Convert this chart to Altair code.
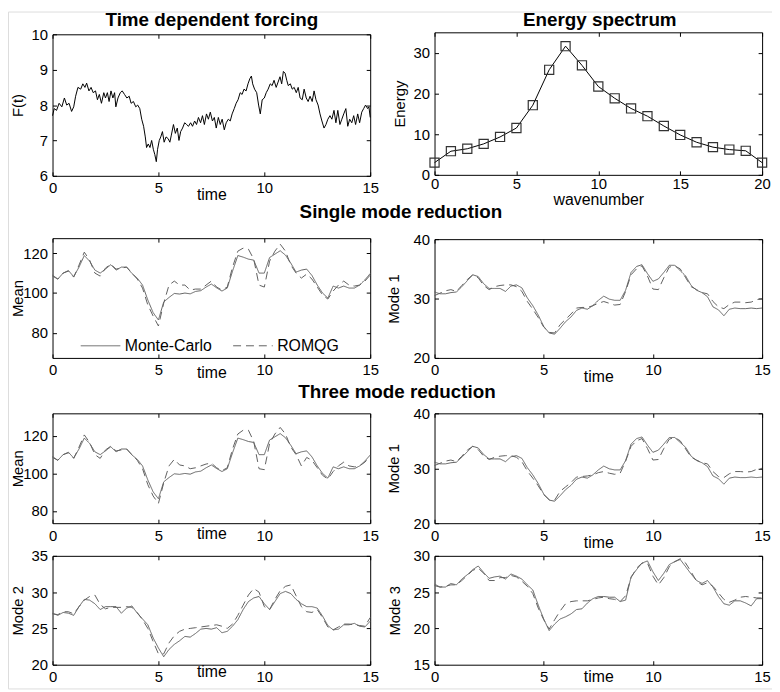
import altair as alt
import pandas as pd

W, H = 772, 684
FONT = "Liberation Sans"
GRAY = "#606060"

# ---------------- data ----------------
T_FORCE = [0.00, 0.08, 0.19, 0.31, 0.44, 0.56, 0.67, 0.78, 0.90, 1.00, 1.09, 1.20, 1.33, 1.43, 1.53, 1.61,
           1.72, 1.82, 1.92, 2.03, 2.12, 2.21, 2.31, 2.42, 2.50, 2.59, 2.67, 2.76, 2.85, 2.93, 2.99, 3.09,
           3.20, 3.29, 3.40, 3.51, 3.62, 3.71, 3.82, 3.93, 4.02, 4.12, 4.21, 4.30, 4.38, 4.44, 4.52, 4.60,
           4.68, 4.76, 4.83, 4.90, 4.96, 5.04, 5.11, 5.19, 5.27, 5.36, 5.46, 5.54, 5.61, 5.71, 5.80, 5.89,
           5.97, 6.05, 6.14, 6.24, 6.33, 6.42, 6.52, 6.61, 6.71, 6.80, 6.89, 6.99, 7.08, 7.17, 7.27, 7.36,
           7.45, 7.55, 7.64, 7.73, 7.83, 7.92, 8.01, 8.11, 8.20, 8.30, 8.39, 8.48, 8.58, 8.67, 8.76, 8.86,
           8.95, 9.04, 9.14, 9.23, 9.32, 9.39, 9.45, 9.54, 9.64, 9.73, 9.81, 9.90, 10.00, 10.09, 10.18, 10.28,
           10.37, 10.46, 10.56, 10.65, 10.74, 10.82, 10.90, 10.98, 11.06, 11.13, 11.23, 11.32, 11.41, 11.51,
           11.60, 11.69, 11.79, 11.88, 11.98, 12.07, 12.16, 12.26, 12.35, 12.44, 12.54, 12.63, 12.72, 12.82,
           12.91, 13.00, 13.10, 13.19, 13.29, 13.38, 13.47, 13.57, 13.66, 13.75, 13.85, 13.94, 14.03, 14.13,
           14.22, 14.31, 14.41, 14.50, 14.60, 14.69, 14.78, 14.88, 14.94, 15.00]
F_FORCE = [7.70, 7.90, 7.85, 8.05, 7.95, 8.20, 8.00, 8.05, 7.82, 7.95, 8.25, 8.50, 8.45, 8.60, 8.50, 8.62,
           8.40, 8.50, 8.35, 8.40, 8.15, 8.30, 8.05, 8.35, 8.20, 8.35, 8.10, 8.40, 8.20, 8.35, 7.95, 8.20,
           8.35, 8.40, 8.30, 8.20, 8.25, 8.05, 8.10, 7.95, 8.00, 7.90, 7.60, 7.40, 7.10, 6.80, 6.90, 6.80,
           7.00, 6.75, 6.60, 6.40, 6.75, 7.00, 7.10, 7.25, 6.95, 7.10, 7.05, 6.95, 7.15, 7.45, 7.20, 7.35,
           7.00, 7.25, 7.35, 7.50, 7.45, 7.40, 7.50, 7.40, 7.55, 7.45, 7.65, 7.50, 7.70, 7.45, 7.75, 7.60,
           7.80, 7.55, 7.65, 7.35, 7.65, 7.45, 7.60, 7.30, 7.50, 7.60, 7.55, 7.75, 7.90, 8.05, 8.15, 8.35,
           8.30, 8.45, 8.40, 8.60, 8.75, 8.82, 8.60, 8.45, 8.35, 8.00, 7.75, 8.15, 8.20, 8.35, 8.45, 8.60,
           8.55, 8.70, 8.50, 8.65, 8.80, 8.60, 8.95, 8.90, 8.70, 8.55, 8.60, 8.45, 8.50, 8.35,
           8.50, 8.20, 8.15, 8.45, 8.20, 8.10, 8.25, 8.10, 8.40, 8.15, 8.00, 7.75, 7.55, 7.35,
           7.45, 7.60, 7.70, 7.60, 7.85, 7.50, 7.85, 7.45, 7.60, 7.75, 7.90, 7.40, 7.60, 7.50,
           7.70, 7.45, 7.75, 7.50, 7.80, 7.90, 8.00, 7.90, 7.95, 7.65]

WAVENUMBER = list(range(21))
ENERGY = [3.0, 5.8, 6.4, 7.6, 9.3, 11.5, 17.1, 25.8, 31.6, 26.9, 21.7, 18.8, 16.3, 14.4, 12.0, 9.8,
          8.0, 6.8, 6.2, 5.9, 3.0]

T = [0, 0.25, 0.5, 0.75, 1, 1.25, 1.5, 1.75, 2, 2.25, 2.5, 2.75, 3, 3.25, 3.5, 3.75, 4, 4.25, 4.5, 4.75,
     5, 5.25, 5.5, 5.75, 6, 6.25, 6.5, 6.75, 7, 7.25, 7.5, 7.75, 8, 8.25, 8.5, 8.75, 9, 9.25, 9.5, 9.75,
     10, 10.25, 10.5, 10.75, 11, 11.25, 11.5, 11.75, 12, 12.25, 12.5, 12.75, 13, 13.25, 13.5, 13.75,
     14, 14.25, 14.5, 14.75, 15]

MC_MEAN = [109, 107, 110, 111.3, 108.2, 113, 118.8, 116, 111.5, 110, 112, 114.2, 111.5, 113, 113, 109.8,
           107.5, 104, 96.5, 90.2, 86.5, 95.5, 97.8, 99.8, 99.5, 100, 99.6, 100.8, 101.2, 103, 104.5, 102.6,
           101, 102.5, 111, 118.8, 118, 117, 116.5, 110, 110, 117.8, 119.5, 121.2, 119, 115, 110.5, 111.5,
           112, 108.8, 104, 100, 97.5, 103.5, 102.5, 103.5, 102.5, 102.5, 104, 106.6, 109.8]
ROM_MEAN_1 = [108.5, 107, 110, 111, 108, 114, 120.5, 116.5, 110, 108.5, 112.5, 114.5, 112, 112.5, 113, 110,
              107, 102.5, 94, 88.5, 83.5, 95, 104, 106, 104, 104, 101.5, 102, 102, 104, 106, 103,
              101.5, 103, 113, 121, 122.5, 122, 117, 104, 103, 116, 121, 124.5, 121, 114, 110, 107.5,
              109.5, 107, 103, 99, 97, 101, 104, 106, 104, 103.5, 104, 106, 109]
ROM_MEAN_3 = [108.5, 107, 110, 111, 108, 114, 120.5, 116.5, 110, 108, 112.5, 114.5, 112, 112.5, 113, 110,
              107, 102.5, 94, 88, 84, 95, 104, 107.5, 104.5, 104, 102.5, 103, 104, 105, 105.5, 103,
              101.5, 103, 113, 121, 123, 123, 117, 102.5, 102, 116, 121, 124.5, 121, 114, 110, 104,
              108.5, 107, 103, 99, 97, 101, 104, 106, 104, 103.5, 104, 106, 109]

MC_MODE1 = [31.1, 30.8, 30.8, 31.0, 31.1, 32.0, 33.0, 34.0, 33.7, 32.5, 31.7, 31.7, 31.7, 31.2, 32.1, 32.3,
            31.8, 30.1, 28.8, 27.2, 25.3, 24.2, 24.0, 25.0, 26.1, 26.9, 28.0, 28.4, 28.2, 28.8, 29.7, 30.4,
            29.9, 29.7, 29.7, 31.4, 34.4, 35.4, 35.7, 34.2, 32.9, 33.3, 34.4, 35.6, 35.6, 34.7, 33.8, 32.2,
            31.4, 31.0, 30.3, 28.6, 28.1, 27.1, 28.2, 28.4, 28.3, 28.3, 28.4, 28.3, 28.4]
ROM_MODE1_1 = [30.5, 30.9, 31.3, 31.5, 31.2, 32.2, 33.2, 34.0, 33.5, 32.2, 31.5, 32.0, 32.2, 32.3, 32.3, 32.0,
               31.2, 29.5, 28.2, 26.8, 25.2, 24.3, 24.2, 25.6, 26.5, 27.4, 28.4, 28.5, 28.5, 28.8, 29.2, 29.5,
               29.2, 28.9, 29.0, 31.2, 34.0, 35.0, 35.5, 33.8, 31.6, 31.5, 33.5, 35.3, 35.5, 35.0, 33.5, 32.0,
               31.5, 31.0, 30.8, 29.5, 28.6, 28.3, 29.0, 29.4, 29.4, 29.3, 29.4, 29.8, 30.0]
ROM_MODE1_3 = [30.5, 30.9, 31.3, 31.5, 31.2, 32.2, 33.3, 34.0, 33.4, 32.2, 31.6, 32.0, 32.2, 32.3, 32.3, 32.0,
               31.2, 29.5, 28.2, 26.8, 25.2, 24.3, 24.2, 25.8, 26.6, 27.4, 28.4, 28.5, 28.6, 28.8, 29.2, 29.4,
               29.1, 28.9, 29.1, 31.3, 34.0, 35.0, 35.4, 33.6, 31.5, 31.6, 33.6, 35.3, 35.6, 35.0, 33.5, 32.0,
               31.5, 31.0, 30.8, 29.4, 28.5, 28.3, 29.0, 29.4, 29.4, 29.3, 29.4, 29.8, 30.0]

MC_MODE2 = [27.1, 26.8, 27.2, 27.1, 26.8, 28.0, 29.0, 28.9, 28.4, 27.6, 28.0, 28.0, 28.0, 27.1, 27.8, 28.1,
            27.1, 26.3, 25.5, 23.7, 22.3, 21.1, 22.1, 22.8, 23.3, 23.9, 23.8, 24.3, 24.9, 25.0, 24.9, 25.1,
            24.4, 24.6, 25.3, 26.2, 27.6, 28.7, 29.2, 29.4, 28.4, 27.6, 28.7, 29.8, 30.1, 29.8, 29.0, 28.4,
            28.0, 28.0, 27.8, 26.7, 25.4, 24.8, 24.9, 25.5, 25.5, 25.7, 25.3, 25.2, 26.0]
ROM_MODE2 = [27.0, 26.9, 27.3, 27.3, 27.0, 28.0, 28.9, 29.4, 29.6, 28.3, 27.7, 27.9, 27.9, 27.9, 28.0, 27.9,
             27.2, 26.2, 25.0, 23.2, 21.5, 21.5, 23.0, 24.0, 24.6, 24.9, 25.0, 25.1, 25.2, 25.3, 25.4, 25.5,
             25.3, 25.0, 25.6, 26.8, 28.2, 29.6, 30.5, 30.0, 28.0, 27.6, 29.0, 30.2, 30.8, 31.0, 29.5, 28.0,
             27.3, 27.2, 27.6, 26.5, 25.2, 24.8, 25.2, 25.6, 25.6, 25.5, 25.4, 25.3, 26.5]

MC_MODE3 = [26.1, 25.7, 25.7, 26.2, 26.0, 26.8, 27.4, 28.1, 28.6, 27.7, 26.9, 27.1, 27.2, 26.8, 27.5, 27.2,
            26.8, 26.0, 25.3, 23.2, 21.3, 19.7, 20.6, 21.3, 21.6, 22.0, 22.6, 22.7, 23.5, 24.1, 24.4, 24.4,
            24.3, 24.3, 23.7, 23.9, 27.1, 28.1, 29.0, 29.3, 27.8, 26.6, 27.6, 28.8, 29.2, 29.5, 28.5, 27.5,
            26.6, 26.2, 26.6, 25.7, 24.4, 23.4, 23.2, 23.8, 23.8, 23.5, 23.1, 24.1, 24.1]
ROM_MODE3 = [25.9, 25.7, 25.8, 26.0, 26.0, 26.6, 27.3, 28.0, 28.3, 27.6, 26.6, 26.6, 27.0, 27.0, 27.3, 27.1,
             26.5, 25.8, 24.8, 22.8, 21.2, 19.9, 21.2, 22.4, 23.4, 23.7, 23.8, 23.8, 23.8, 24.0, 24.2, 24.3,
             24.1, 24.0, 23.7, 24.5, 27.0, 28.3, 29.0, 29.0, 27.2, 26.0, 27.0, 28.5, 29.2, 29.6, 29.0, 27.8,
             26.5, 26.0, 26.3, 25.8, 24.9, 24.0, 23.6, 23.9, 24.3, 24.4, 24.3, 24.2, 24.2]

SERIES = ["Monte-Carlo", "ROMQG"]
TIME_TICKS = [0, 5, 10, 15]


def pair_df(mc, rom):
    return pd.DataFrame({"x": T + T, "y": mc + rom,
                         "s": [SERIES[0]] * len(T) + [SERIES[1]] * len(T)})


# ---------------- panel builder ----------------
def panel(df, xdom, ydom, box, xvals, yvals, xtitle, ytitle, xtitle_y, ytitle_x,
          kind="pair", legend=None, xpad=5):
    x0, x1, ytop, ybot = box
    xs = alt.Scale(domain=xdom, range=[x0, x1], nice=False, zero=False)
    ys = alt.Scale(domain=ydom, range=[ybot, ytop], nice=False, zero=False)
    lab = dict(labelFont=FONT, labelFontSize=15, labelColor="black", labelFlush=False,
               labelOverlap=False, labelBound=False, grid=False)
    ax_x = alt.Axis(orient="bottom", offset=ybot - H, values=xvals, format="d", ticks=False,
                    domain=True, domainColor="black", domainWidth=1, labelPadding=xpad,
                    title=xtitle, titleFont=FONT, titleFontSize=16, titleFontWeight="normal",
                    titleColor="black", titleY=xtitle_y, titleBaseline="middle", **lab)
    ax_y = alt.Axis(orient="left", offset=-x0, values=yvals, format="d", ticks=False,
                    domain=True, domainColor="black", domainWidth=1, labelPadding=5,
                    title=ytitle, titleFont=FONT, titleFontSize=15, titleFontWeight="normal",
                    titleColor="black", titleX=ytitle_x, titleBaseline="middle", **lab)
    tk_x = alt.Axis(orient="top", offset=-ybot, values=xvals, ticks=True, tickSize=4,
                    tickColor="black", labels=False, domain=False, grid=False, title=None)
    tk_y = alt.Axis(orient="right", offset=x0 - W, values=yvals, ticks=True, tickSize=4,
                    tickColor="black", labels=False, domain=False, grid=False, title=None)
    bx_x = alt.Axis(orient="bottom", offset=ytop - H, values=xvals, ticks=True, tickSize=4,
                    tickColor="black", labels=False, domain=True, domainColor="black",
                    grid=False, title=None)
    bx_y = alt.Axis(orient="left", offset=-x1, values=yvals, ticks=True, tickSize=4,
                    tickColor="black", labels=False, domain=True, domainColor="black",
                    grid=False, title=None)

    base = alt.Chart(df)
    if kind == "pair":
        dash = alt.StrokeDash("s:N", scale=alt.Scale(domain=SERIES, range=[[1, 0], [8, 5]]),
                              legend=legend)
        main = base.mark_line(color=GRAY, strokeWidth=1, clip=True).encode(
            x=alt.X("x:Q", scale=xs, axis=ax_x), y=alt.Y("y:Q", scale=ys, axis=ax_y),
            strokeDash=dash, detail="s:N")
        second = base.mark_line(opacity=0).encode(
            x=alt.X("x:Q", scale=xs, axis=tk_x), y=alt.Y("y:Q", scale=ys, axis=tk_y), detail="s:N")
    elif kind == "force":
        main = base.mark_line(color="black", strokeWidth=1).encode(
            x=alt.X("x:Q", scale=xs, axis=ax_x), y=alt.Y("y:Q", scale=ys, axis=ax_y))
        second = base.mark_line(opacity=0).encode(
            x=alt.X("x:Q", scale=xs, axis=tk_x), y=alt.Y("y:Q", scale=ys, axis=tk_y))
    else:  # spectrum
        main = base.mark_line(color="black", strokeWidth=1).encode(
            x=alt.X("x:Q", scale=xs, axis=ax_x), y=alt.Y("y:Q", scale=ys, axis=ax_y))
        second = base.mark_point(shape="square", filled=False, size=85, color="#333333",
                                 strokeWidth=1.2, opacity=1).encode(
            x=alt.X("x:Q", scale=xs, axis=tk_x), y=alt.Y("y:Q", scale=ys, axis=tk_y))
    boxl = base.mark_line(opacity=0).encode(
        x=alt.X("x:Q", scale=xs, axis=bx_x), y=alt.Y("y:Q", scale=ys, axis=bx_y))
    return [main, second, boxl]


def label(text, x, y, size=18, weight="bold"):
    return alt.Chart(pd.DataFrame({"txt": [text]})).mark_text(
        font=FONT, fontSize=size, fontWeight=weight, align="center", baseline="alphabetic",
        color="black").encode(text="txt:N", x=alt.value(x), y=alt.value(y))


LX0, LX1, RX0, RX1 = 45, 366, 431, 762

legend = alt.Legend(orient="none", legendX=73, legendY=317, direction="horizontal", title=None,
                    symbolType="stroke", symbolSize=1600, symbolStrokeWidth=1,
                    symbolStrokeColor=GRAY, labelFont=FONT, labelFontSize=16, labelColor="black",
                    labelOffset=4, columnPadding=18, padding=0)

layers = []
layers += panel(pd.DataFrame({"x": T_FORCE, "y": F_FORCE}), [0, 15], [6, 10],
                (LX0, LX1, 23, 166), TIME_TICKS, [6, 7, 8, 9, 10], "time", "F(t)", 19, -35,
                kind="force")
layers += panel(pd.DataFrame({"x": WAVENUMBER, "y": ENERGY}), [0, 20], [0, 35],
                (RX0, RX1, 21, 165), [0, 5, 10, 15, 20], [0, 10, 20, 30], "wavenumber", "Energy",
                25, -35, kind="spec", xpad=2)
layers += panel(pair_df(MC_MEAN, ROM_MEAN_1), [0, 15], [67.5, 127.5], (LX0, LX1, 229, 350),
                TIME_TICKS, [80, 100, 120], "time", "Mean", 15, -35, legend=legend)
layers += panel(pair_df(MC_MODE1, ROM_MODE1_1), [0, 15], [20, 40], (RX0, RX1, 230, 350),
                TIME_TICKS, [20, 30, 40], "time", "Mode 1", 19, -41)
layers += panel(pair_df(MC_MEAN, ROM_MEAN_3), [0, 15], [73.5, 132], (LX0, LX1, 406, 517),
                TIME_TICKS, [80, 100, 120], "time", "Mean", 10, -35)
layers += panel(pair_df(MC_MODE1, ROM_MODE1_3), [0, 15], [20, 40], (RX0, RX1, 406, 517),
                TIME_TICKS, [20, 30, 40], "time", "Mode 1", 20, -41)
layers += panel(pair_df(MC_MODE2, ROM_MODE2), [0, 15], [20, 35], (LX0, LX1, 550, 660),
                TIME_TICKS, [20, 25, 30, 35], "time", "Mode 2", 7, -35)
layers += panel(pair_df(MC_MODE3, ROM_MODE3), [0, 15], [15, 30], (RX0, RX1, 550, 660),
                TIME_TICKS, [15, 20, 25, 30], "time", "Mode 3", 12, -40)

layers += [label("Time dependent forcing", 206, 15, size=19),
           label("Energy spectrum", 598, 15, size=19),
           label("Single mode reduction", 397, 209, size=19),
           label("Three mode reduction", 393, 390, size=19)]

chart = alt.layer(*layers).properties(
    width=W, height=H, autosize=alt.AutoSizeParams(type="none"), padding=0
).resolve_scale(
    x="independent", y="independent", strokeDash="independent"
).resolve_axis(
    x="independent", y="independent"
).resolve_legend(
    strokeDash="independent"
).configure_view(stroke=None).configure(background="white")

chart.save("out.html", embed_options={"renderer": "svg", "actions": False})
